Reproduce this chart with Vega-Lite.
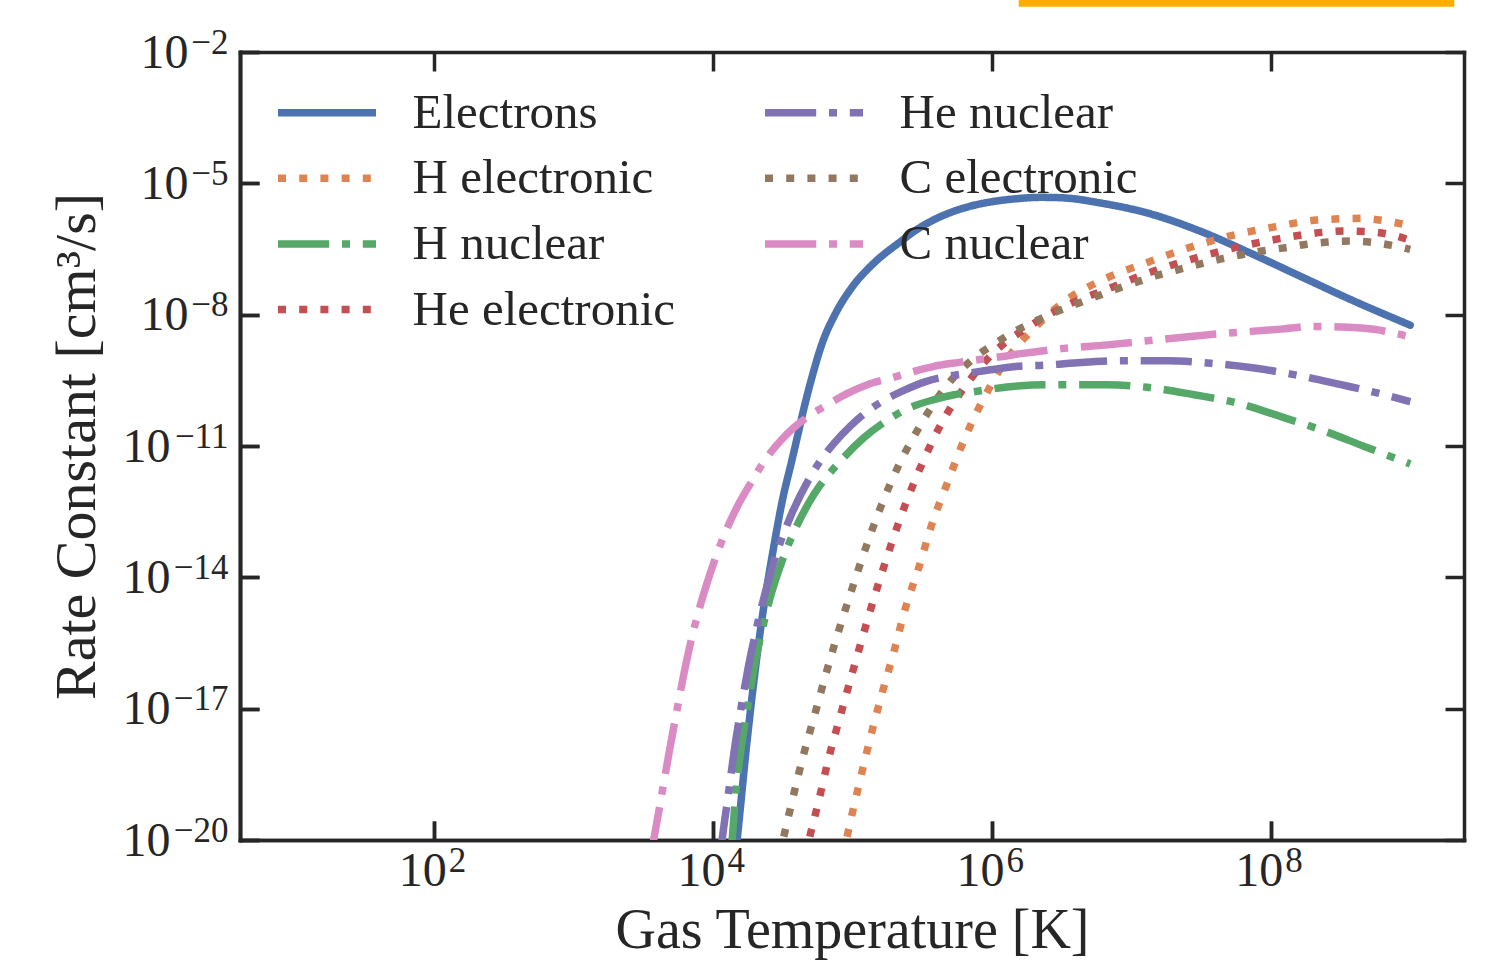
{
  "$schema": "https://vega.github.io/schema/vega-lite/v6.json",
  "width": 1224,
  "height": 788,
  "autosize": {"type": "none"},
  "padding": {"left": 240, "top": 52, "right": 22, "bottom": 126},
  "background": "white",
  "config": {
    "view": {"stroke": null},
    "font": "Liberation Serif",
    "axis": {
      "grid": false,
      "domainColor": "#262626",
      "domainWidth": 3.5,
      "domainCap": "square",
      "tickColor": "#262626",
      "tickWidth": 3.5,
      "tickSize": -19,
      "labelColor": "#262626",
      "titleColor": "#262626",
      "labelFont": "Liberation Serif",
      "titleFont": "Liberation Serif",
      "titleFontWeight": "normal",
      "labelFontSize": 48,
      "labelOverlap": false,
      "labelFlush": false,
      "zindex": 1
    },
    "legend": {
      "orient": "none",
      "legendX": 58.5,
      "legendY": 32,
      "columns": 2,
      "columnPadding": 74,
      "rowPadding": 11.7,
      "padding": 0,
      "symbolType": "M-2,0H2",
      "symbolSize": 2401,
      "symbolStrokeWidth": 7.5,
      "labelFont": "Liberation Serif",
      "labelFontSize": 49,
      "labelColor": "#262626",
      "labelOffset": 57,
      "labelLimit": 0
    }
  },
  "datasets": {
    "curves": [
      {"species": "Electrons", "T": 1.413e4, "k": 1.995e-21},
      {"species": "Electrons", "T": 1.489e4, "k": 1e-20},
      {"species": "Electrons", "T": 1.758e4, "k": 1.950e-18},
      {"species": "Electrons", "T": 2.188e4, "k": 6.310e-16},
      {"species": "Electrons", "T": 2.729e4, "k": 5.129e-14},
      {"species": "Electrons", "T": 3.162e4, "k": 6.310e-13},
      {"species": "Electrons", "T": 3.631e4, "k": 3.981e-12},
      {"species": "Electrons", "T": 4.018e4, "k": 1.585e-11},
      {"species": "Electrons", "T": 4.477e4, "k": 7.079e-11},
      {"species": "Electrons", "T": 5.140e4, "k": 3.890e-10},
      {"species": "Electrons", "T": 6.067e4, "k": 2.239e-9},
      {"species": "Electrons", "T": 7.568e4, "k": 1.072e-8},
      {"species": "Electrons", "T": 1e5, "k": 4.365e-8},
      {"species": "Electrons", "T": 1.426e5, "k": 1.514e-7},
      {"species": "Electrons", "T": 2.213e5, "k": 4.677e-7},
      {"species": "Electrons", "T": 2.818e5, "k": 8.318e-7},
      {"species": "Electrons", "T": 3.639e5, "k": 1.349e-6},
      {"species": "Electrons", "T": 5.012e5, "k": 2.138e-6},
      {"species": "Electrons", "T": 7.047e5, "k": 3.020e-6},
      {"species": "Electrons", "T": 1e6, "k": 3.802e-6},
      {"species": "Electrons", "T": 1.413e6, "k": 4.365e-6},
      {"species": "Electrons", "T": 2.239e6, "k": 4.786e-6},
      {"species": "Electrons", "T": 3.162e6, "k": 4.677e-6},
      {"species": "Electrons", "T": 6.039e6, "k": 3.548e-6},
      {"species": "Electrons", "T": 1.380e7, "k": 1.995e-6},
      {"species": "Electrons", "T": 3.155e7, "k": 7.943e-7},
      {"species": "Electrons", "T": 7.211e7, "k": 2.512e-7},
      {"species": "Electrons", "T": 1.648e8, "k": 7.413e-8},
      {"species": "Electrons", "T": 3.767e8, "k": 2.188e-8},
      {"species": "Electrons", "T": 1e9, "k": 5.754e-9},

      {"species": "H electronic", "T": 8.511e4, "k": 3.981e-21},
      {"species": "H electronic", "T": 9.036e4, "k": 1e-20},
      {"species": "H electronic", "T": 1.143e5, "k": 2.630e-19},
      {"species": "H electronic", "T": 1.349e5, "k": 2.291e-18},
      {"species": "H electronic", "T": 1.637e5, "k": 2.344e-17},
      {"species": "H electronic", "T": 1.982e5, "k": 1.995e-16},
      {"species": "H electronic", "T": 2.404e5, "k": 2.042e-15},
      {"species": "H electronic", "T": 2.999e5, "k": 1.738e-14},
      {"species": "H electronic", "T": 3.741e5, "k": 1.778e-13},
      {"species": "H electronic", "T": 4.797e5, "k": 1.445e-12},
      {"species": "H electronic", "T": 6.237e5, "k": 1.259e-11},
      {"species": "H electronic", "T": 8.551e5, "k": 1.072e-10},
      {"species": "H electronic", "T": 1.222e6, "k": 7.762e-10},
      {"species": "H electronic", "T": 1.524e6, "k": 1.950e-9},
      {"species": "H electronic", "T": 1.954e6, "k": 4.467e-9},
      {"species": "H electronic", "T": 3.296e6, "k": 1.995e-8},
      {"species": "H electronic", "T": 6.383e6, "k": 6.457e-8},
      {"species": "H electronic", "T": 1.271e7, "k": 1.514e-7},
      {"species": "H electronic", "T": 2.529e7, "k": 3.311e-7},
      {"species": "H electronic", "T": 5.117e7, "k": 6.310e-7},
      {"species": "H electronic", "T": 1.042e8, "k": 1e-6},
      {"species": "H electronic", "T": 2.138e8, "k": 1.445e-6},
      {"species": "H electronic", "T": 4.446e8, "k": 1.585e-6},
      {"species": "H electronic", "T": 6.427e8, "k": 1.413e-6},
      {"species": "H electronic", "T": 1e9, "k": 1.072e-6},

      {"species": "H nuclear", "T": 1.340e4, "k": 3.981e-21},
      {"species": "H nuclear", "T": 1.371e4, "k": 1e-20},
      {"species": "H nuclear", "T": 1.449e4, "k": 1e-19},
      {"species": "H nuclear", "T": 1.574e4, "k": 9.772e-19},
      {"species": "H nuclear", "T": 1.758e4, "k": 9.550e-18},
      {"species": "H nuclear", "T": 1.959e4, "k": 7.762e-17},
      {"species": "H nuclear", "T": 2.312e4, "k": 9.120e-16},
      {"species": "H nuclear", "T": 2.582e4, "k": 3.631e-15},
      {"species": "H nuclear", "T": 3.133e4, "k": 2.399e-14},
      {"species": "H nuclear", "T": 4.018e4, "k": 1.585e-13},
      {"species": "H nuclear", "T": 5.284e4, "k": 7.762e-13},
      {"species": "H nuclear", "T": 8.222e4, "k": 4.571e-12},
      {"species": "H nuclear", "T": 1.208e5, "k": 1.549e-11},
      {"species": "H nuclear", "T": 1.778e5, "k": 3.890e-11},
      {"species": "H nuclear", "T": 2.472e5, "k": 7.079e-11},
      {"species": "H nuclear", "T": 3.846e5, "k": 1.148e-10},
      {"species": "H nuclear", "T": 5.358e5, "k": 1.479e-10},
      {"species": "H nuclear", "T": 7.447e5, "k": 1.738e-10},
      {"species": "H nuclear", "T": 1.038e6, "k": 2.042e-10},
      {"species": "H nuclear", "T": 1.524e6, "k": 2.344e-10},
      {"species": "H nuclear", "T": 2.495e6, "k": 2.512e-10},
      {"species": "H nuclear", "T": 6.730e6, "k": 2.512e-10},
      {"species": "H nuclear", "T": 1.303e7, "k": 2.188e-10},
      {"species": "H nuclear", "T": 2.825e7, "k": 1.479e-10},
      {"species": "H nuclear", "T": 5.781e7, "k": 9.550e-11},
      {"species": "H nuclear", "T": 1.183e8, "k": 4.677e-11},
      {"species": "H nuclear", "T": 2.291e8, "k": 2.344e-11},
      {"species": "H nuclear", "T": 4.688e8, "k": 9.772e-12},
      {"species": "H nuclear", "T": 1e9, "k": 3.890e-12},

      {"species": "He electronic", "T": 4.571e4, "k": 3.981e-21},
      {"species": "He electronic", "T": 4.875e4, "k": 1e-20},
      {"species": "He electronic", "T": 5.741e4, "k": 8.128e-20},
      {"species": "He electronic", "T": 6.776e4, "k": 7.762e-19},
      {"species": "He electronic", "T": 8.222e4, "k": 7.244e-18},
      {"species": "He electronic", "T": 1e5, "k": 6.761e-17},
      {"species": "He electronic", "T": 1.222e5, "k": 6.310e-16},
      {"species": "He electronic", "T": 1.507e5, "k": 5.888e-15},
      {"species": "He electronic", "T": 1.879e5, "k": 5.248e-14},
      {"species": "He electronic", "T": 2.404e5, "k": 4.786e-13},
      {"species": "He electronic", "T": 3.170e5, "k": 4.074e-12},
      {"species": "He electronic", "T": 4.335e5, "k": 3.236e-11},
      {"species": "He electronic", "T": 6.412e5, "k": 2.291e-10},
      {"species": "He electronic", "T": 1.035e6, "k": 1.380e-9},
      {"species": "He electronic", "T": 1.845e6, "k": 5.370e-9},
      {"species": "He electronic", "T": 3.483e6, "k": 1.660e-8},
      {"species": "He electronic", "T": 6.934e6, "k": 3.981e-8},
      {"species": "He electronic", "T": 1.343e7, "k": 9.120e-8},
      {"species": "He electronic", "T": 2.716e7, "k": 1.862e-7},
      {"species": "He electronic", "T": 5.534e7, "k": 3.388e-7},
      {"species": "He electronic", "T": 1.132e8, "k": 5.370e-7},
      {"species": "He electronic", "T": 2.333e8, "k": 7.586e-7},
      {"species": "He electronic", "T": 3.373e8, "k": 8.128e-7},
      {"species": "He electronic", "T": 4.831e8, "k": 7.943e-7},
      {"species": "He electronic", "T": 6.918e8, "k": 6.918e-7},
      {"species": "He electronic", "T": 1e9, "k": 5.012e-7},

      {"species": "He nuclear", "T": 1.122e4, "k": 3.981e-21},
      {"species": "He nuclear", "T": 1.161e4, "k": 1e-20},
      {"species": "He nuclear", "T": 1.282e4, "k": 1e-19},
      {"species": "He nuclear", "T": 1.413e4, "k": 1e-18},
      {"species": "He nuclear", "T": 1.585e4, "k": 1e-17},
      {"species": "He nuclear", "T": 1.778e4, "k": 7.943e-17},
      {"species": "He nuclear", "T": 2.089e4, "k": 8.913e-16},
      {"species": "He nuclear", "T": 2.344e4, "k": 3.981e-15},
      {"species": "He nuclear", "T": 2.884e4, "k": 3.890e-14},
      {"species": "He nuclear", "T": 3.499e4, "k": 1.995e-13},
      {"species": "He nuclear", "T": 4.864e4, "k": 1.738e-12},
      {"species": "He nuclear", "T": 5.902e4, "k": 4.677e-12},
      {"species": "He nuclear", "T": 7.362e4, "k": 1.148e-11},
      {"species": "He nuclear", "T": 9.683e4, "k": 2.884e-11},
      {"species": "He nuclear", "T": 1.276e5, "k": 6.166e-11},
      {"species": "He nuclear", "T": 1.679e5, "k": 1.096e-10},
      {"species": "He nuclear", "T": 2.339e5, "k": 1.862e-10},
      {"species": "He nuclear", "T": 3.350e5, "k": 2.951e-10},
      {"species": "He nuclear", "T": 4.786e5, "k": 3.890e-10},
      {"species": "He nuclear", "T": 6.668e5, "k": 4.571e-10},
      {"species": "He nuclear", "T": 9.795e5, "k": 5.495e-10},
      {"species": "He nuclear", "T": 1.524e6, "k": 6.607e-10},
      {"species": "He nuclear", "T": 2.495e6, "k": 7.079e-10},
      {"species": "He nuclear", "T": 4.335e6, "k": 8.128e-10},
      {"species": "He nuclear", "T": 8.872e6, "k": 8.913e-10},
      {"species": "He nuclear", "T": 1.816e7, "k": 8.913e-10},
      {"species": "He nuclear", "T": 3.724e7, "k": 7.762e-10},
      {"species": "He nuclear", "T": 7.621e7, "k": 6.026e-10},
      {"species": "He nuclear", "T": 1.648e8, "k": 3.981e-10},
      {"species": "He nuclear", "T": 3.192e8, "k": 2.512e-10},
      {"species": "He nuclear", "T": 6.180e8, "k": 1.549e-10},
      {"species": "He nuclear", "T": 1e9, "k": 1.023e-10},

      {"species": "C electronic", "T": 2.985e4, "k": 3.981e-21},
      {"species": "C electronic", "T": 3.177e4, "k": 1e-20},
      {"species": "C electronic", "T": 3.698e4, "k": 7.943e-20},
      {"species": "C electronic", "T": 4.406e4, "k": 7.762e-19},
      {"species": "C electronic", "T": 5.346e4, "k": 7.079e-18},
      {"species": "C electronic", "T": 6.486e4, "k": 6.607e-17},
      {"species": "C electronic", "T": 7.980e4, "k": 6.166e-16},
      {"species": "C electronic", "T": 9.977e4, "k": 5.754e-15},
      {"species": "C electronic", "T": 1.256e5, "k": 5.129e-14},
      {"species": "C electronic", "T": 1.618e5, "k": 4.571e-13},
      {"species": "C electronic", "T": 2.153e5, "k": 3.715e-12},
      {"species": "C electronic", "T": 3.048e5, "k": 2.884e-11},
      {"species": "C electronic", "T": 4.529e5, "k": 1.995e-10},
      {"species": "C electronic", "T": 7.656e5, "k": 1.096e-9},
      {"species": "C electronic", "T": 1.026e6, "k": 2.089e-9},
      {"species": "C electronic", "T": 1.403e6, "k": 3.890e-9},
      {"species": "C electronic", "T": 1.954e6, "k": 6.607e-9},
      {"species": "C electronic", "T": 2.673e6, "k": 1.047e-8},
      {"species": "C electronic", "T": 3.784e6, "k": 1.622e-8},
      {"species": "C electronic", "T": 5.321e6, "k": 2.455e-8},
      {"species": "C electronic", "T": 7.534e6, "k": 3.715e-8},
      {"species": "C electronic", "T": 1.059e7, "k": 5.370e-8},
      {"species": "C electronic", "T": 1.500e7, "k": 7.762e-8},
      {"species": "C electronic", "T": 2.123e7, "k": 1.047e-7},
      {"species": "C electronic", "T": 3.034e7, "k": 1.413e-7},
      {"species": "C electronic", "T": 4.335e7, "k": 1.862e-7},
      {"species": "C electronic", "T": 6.180e7, "k": 2.344e-7},
      {"species": "C electronic", "T": 8.892e7, "k": 2.884e-7},
      {"species": "C electronic", "T": 1.271e8, "k": 3.388e-7},
      {"species": "C electronic", "T": 1.820e8, "k": 4.074e-7},
      {"species": "C electronic", "T": 2.606e8, "k": 4.571e-7},
      {"species": "C electronic", "T": 3.767e8, "k": 4.786e-7},
      {"species": "C electronic", "T": 5.383e8, "k": 4.467e-7},
      {"species": "C electronic", "T": 7.780e8, "k": 3.715e-7},
      {"species": "C electronic", "T": 1e9, "k": 3.090e-7},

      {"species": "C nuclear", "T": 3.548e3, "k": 3.981e-21},
      {"species": "C nuclear", "T": 3.750e3, "k": 1e-20},
      {"species": "C nuclear", "T": 4.266e3, "k": 1e-19},
      {"species": "C nuclear", "T": 4.842e3, "k": 1e-18},
      {"species": "C nuclear", "T": 5.521e3, "k": 9.550e-18},
      {"species": "C nuclear", "T": 6.339e3, "k": 9.333e-17},
      {"species": "C nuclear", "T": 7.482e3, "k": 9.120e-16},
      {"species": "C nuclear", "T": 9.078e3, "k": 7.586e-15},
      {"species": "C nuclear", "T": 1.040e4, "k": 2.754e-14},
      {"species": "C nuclear", "T": 1.194e4, "k": 8.710e-14},
      {"species": "C nuclear", "T": 1.489e4, "k": 4.074e-13},
      {"species": "C nuclear", "T": 1.854e4, "k": 1.380e-12},
      {"species": "C nuclear", "T": 2.312e4, "k": 4.365e-12},
      {"species": "C nuclear", "T": 3.048e4, "k": 1.318e-11},
      {"species": "C nuclear", "T": 3.793e4, "k": 2.630e-11},
      {"species": "C nuclear", "T": 5.000e4, "k": 5.129e-11},
      {"species": "C nuclear", "T": 6.592e4, "k": 8.710e-11},
      {"species": "C nuclear", "T": 9.183e4, "k": 1.585e-10},
      {"species": "C nuclear", "T": 1.276e5, "k": 2.512e-10},
      {"species": "C nuclear", "T": 1.879e5, "k": 3.548e-10},
      {"species": "C nuclear", "T": 2.472e5, "k": 4.571e-10},
      {"species": "C nuclear", "T": 3.846e5, "k": 6.607e-10},
      {"species": "C nuclear", "T": 5.808e5, "k": 8.128e-10},
      {"species": "C nuclear", "T": 7.870e5, "k": 9.333e-10},
      {"species": "C nuclear", "T": 1.156e6, "k": 1.096e-9},
      {"species": "C nuclear", "T": 1.611e6, "k": 1.288e-9},
      {"species": "C nuclear", "T": 3.296e6, "k": 1.698e-9},
      {"species": "C nuclear", "T": 6.745e6, "k": 2.042e-9},
      {"species": "C nuclear", "T": 1.459e7, "k": 2.630e-9},
      {"species": "C nuclear", "T": 4.150e7, "k": 3.631e-9},
      {"species": "C nuclear", "T": 1.183e8, "k": 4.677e-9},
      {"species": "C nuclear", "T": 1.941e8, "k": 5.370e-9},
      {"species": "C nuclear", "T": 4.688e8, "k": 4.898e-9},
      {"species": "C nuclear", "T": 8.147e8, "k": 3.631e-9},
      {"species": "C nuclear", "T": 1e9, "k": 3.090e-9}
    ],
    "banner": [
      {"T_start": 1.556e6, "T_end": 2.07e9, "k_low": 0.108, "k_high": 0.3}
    ]
  },
  "resolve": {"axis": {"x": "independent", "y": "independent"}},
  "layer": [
    {
      "data": {"name": "curves"},
      "transform": [{"filter": {"field": "species", "equal": "Electrons"}}],
      "mark": {"type": "line", "strokeWidth": 7.5, "strokeCap": "round", "strokeJoin": "round", "interpolate": "monotone", "clip": true},
      "encoding": {
        "x": {
          "field": "T", "type": "quantitative",
          "scale": {"type": "log", "domain": [4.05, 2.43e9], "nice": false},
          "axis": {
            "orient": "bottom",
            "values": [1e2, 1e4, 1e6, 1e8],
            "labelExpr": "'10'",
            "labelAlign": "right",
            "labelOffset": 12,
            "labelPadding": 26,
            "title": "Gas Temperature [K]",
            "titleFontSize": 56,
            "titlePadding": 8
          }
        },
        "y": {
          "field": "k", "type": "quantitative",
          "scale": {"type": "log", "domain": [1e-20, 1e-2], "nice": false},
          "axis": {
            "orient": "left",
            "values": [1e-20, 1e-17, 1e-14, 1e-11],
            "labelExpr": "'10'",
            "labelPadding": 89,
            "labelOffset": 1,
            "title": "Rate Constant [cm³/s]",
            "titleFontSize": 58,
            "titlePadding": 16
          }
        },
        "color": {
          "field": "species", "type": "nominal",
          "scale": {
            "domain": ["Electrons", "H electronic", "H nuclear", "He electronic", "He nuclear", "C electronic", "C nuclear"],
            "range": ["#4C72B0", "#DD8452", "#55A868", "#C44E52", "#8172B3", "#937860", "#DA8BC3"]
          },
          "legend": {"title": null}
        },
        "strokeDash": {
          "field": "species", "type": "nominal",
          "scale": {
            "domain": ["Electrons", "H electronic", "H nuclear", "He electronic", "He nuclear", "C electronic", "C nuclear"],
            "range": [[1, 0], [8, 13.2], [51.2, 12.8, 8, 12.8], [8, 13.2], [51.2, 12.8, 8, 12.8], [8, 13.2], [51.2, 12.8, 8, 12.8]]
          },
          "legend": {"title": null}
        }
      }
    },
    {
      "data": {"name": "curves"},
      "transform": [{"filter": {"field": "species", "oneOf": ["H electronic", "He electronic", "C electronic"]}}],
      "mark": {"type": "line", "strokeWidth": 7.5, "strokeCap": "butt", "interpolate": "monotone", "clip": true},
      "encoding": {
        "x": {
          "field": "T", "type": "quantitative",
          "axis": {
            "orient": "bottom",
            "values": [1e2, 1e4, 1e6, 1e8],
            "labelExpr": "datum.value < 1e3 ? '2' : datum.value < 1e5 ? '4' : datum.value < 1e7 ? '6' : '8'",
            "labelAlign": "left",
            "labelOffset": 14,
            "labelPadding": 22,
            "labelFontSize": 35,
            "title": null
          }
        },
        "y": {
          "field": "k", "type": "quantitative",
          "axis": {
            "orient": "left",
            "values": [1e-8, 1e-5, 1e-2],
            "labelExpr": "'10'",
            "labelPadding": 71,
            "labelOffset": 1,
            "title": null
          }
        },
        "color": {"field": "species", "type": "nominal"},
        "strokeDash": {"field": "species", "type": "nominal"}
      }
    },
    {
      "data": {"name": "curves"},
      "transform": [{"filter": {"field": "species", "oneOf": ["H nuclear", "He nuclear", "C nuclear"]}}],
      "mark": {"type": "line", "strokeWidth": 7.5, "strokeCap": "butt", "interpolate": "monotone", "clip": true},
      "encoding": {
        "x": {"field": "T", "type": "quantitative", "axis": null},
        "y": {
          "field": "k", "type": "quantitative",
          "axis": {
            "orient": "left",
            "values": [1e-20, 1e-17, 1e-14, 1e-11, 1e-8, 1e-5, 1e-2],
            "labelExpr": "datum.value < 1e-19 ? '−20' : datum.value < 1e-16 ? '−17' : datum.value < 1e-13 ? '−14' : datum.value < 1e-10 ? '−11' : datum.value < 1e-7 ? '−8' : datum.value < 1e-4 ? '−5' : '−2'",
            "labelPadding": 31,
            "labelOffset": -10,
            "labelFontSize": 35,
            "title": null
          }
        },
        "color": {"field": "species", "type": "nominal"},
        "strokeDash": {"field": "species", "type": "nominal"}
      }
    },
    {
      "data": {"name": "banner"},
      "mark": {"type": "rect", "color": "#FFAE00", "clip": false},
      "encoding": {
        "x": {
          "field": "T_start", "type": "quantitative",
          "axis": {"orient": "top", "values": [1e2, 1e4, 1e6, 1e8], "labels": false, "title": null}
        },
        "x2": {"field": "T_end"},
        "y": {
          "field": "k_high", "type": "quantitative",
          "axis": {"orient": "right", "values": [1e-20, 1e-17, 1e-14, 1e-11, 1e-8, 1e-5, 1e-2], "labels": false, "title": null}
        },
        "y2": {"field": "k_low"}
      }
    }
  ]
}
